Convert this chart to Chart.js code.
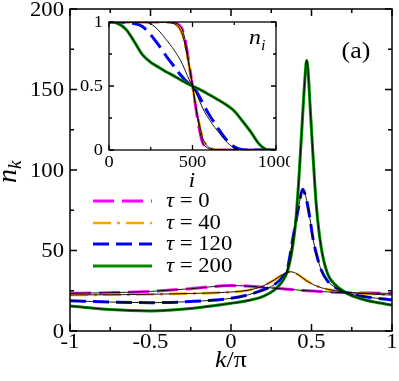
<!DOCTYPE html>
<html>
<head>
<meta charset="utf-8">
<script src="https://cdn.jsdelivr.net/npm/chart.js@4.4.0/dist/chart.umd.min.js"></script>
<style>
  body { margin: 0; background: #fff; }
  #wrap { position: relative; width: 399px; height: 381px; }
  #main { position: absolute; left: 0; top: 0; }
  #inset { position: absolute; left: 80px; top: 10px; }
</style>
</head>
<body>
<div id="wrap">
  <canvas id="main" width="399" height="381"></canvas>
  <canvas id="inset" width="210" height="185"></canvas>
</div>
<script>
// main panel: momentum distribution n_k vs k/pi
const kVals = [-1, -0.75, -0.5, -0.25, 0, 0.1, 0.2, 0.27, 0.32, 0.35, 0.37, 0.385, 0.4, 0.42, 0.445, 0.46, 0.47, 0.48, 0.49, 0.51, 0.53, 0.56, 0.6, 0.65, 0.72, 0.8, 0.9, 1];
const nk0   = [23.4, 23.8, 24.6, 26.3, 28.2, 27.9, 27.1, 26.6, 26.2, 26.0, 25.8, 25.7, 25.6, 25.4, 25.2, 25.1, 25.0, 24.95, 24.9, 24.8, 24.7, 24.5, 24.3, 24.0, 23.7, 23.6, 23.5, 23.4];
const nk40  = [22.4, 22.5, 22.8, 23.3, 24.2, 25.2, 28.0, 31.8, 35.0, 36.4, 36.8, 36.6, 36.0, 34.8, 33.0, 31.9, 31.2, 30.6, 30.0, 28.9, 28.0, 26.9, 25.9, 25.0, 24.0, 23.4, 22.8, 22.3];
const nk120 = [18.8, 18.0, 17.6, 18.3, 20.3, 22.3, 25.5, 28.8, 33.5, 38.5, 49, 58, 66, 77, 88, 85, 81, 76, 70, 57, 48, 38, 31, 27, 23.6, 21.8, 20.4, 19.3];
const nk200 = [15.5, 13.3, 12.5, 14.0, 17.2, 18.8, 21.5, 25.5, 31, 37, 45, 54, 66, 92, 134, 158, 168, 160, 142, 108, 78, 52, 35.5, 28.5, 23.4, 20.2, 17.8, 16.1];

// inset: density profile n_i vs site i
const iVals = [0, 50, 100, 150, 200, 250, 300, 350, 380, 400, 420, 440, 460, 480, 500, 520, 540, 560, 580, 600, 620, 650, 700, 750, 800, 850, 900, 950, 1000];
const ni0   = [1, 1, 1, 1, 1, 1, 1, 1, 0.997, 0.99, 0.975, 0.94, 0.83, 0.67, 0.5, 0.33, 0.17, 0.06, 0.025, 0.01, 0.003, 0, 0, 0, 0, 0, 0, 0, 0];
const ni40  = [1, 1, 1, 1, 1, 1, 1, 0.998, 0.99, 0.98, 0.955, 0.9, 0.79, 0.655, 0.5, 0.345, 0.21, 0.1, 0.045, 0.02, 0.008, 0.002, 0, 0, 0, 0, 0, 0, 0];
const ni120 = [1, 1, 0.997, 0.988, 0.965, 0.9, 0.815, 0.72, 0.67, 0.635, 0.6, 0.57, 0.54, 0.52, 0.5, 0.465, 0.42, 0.37, 0.32, 0.275, 0.235, 0.175, 0.085, 0.025, 0.003, 0, 0, 0, 0];
const ni120ref = [1, 1, 1, 1, 1, 0.985, 0.93, 0.85, 0.8, 0.76, 0.72, 0.67, 0.61, 0.55, 0.5, 0.45, 0.39, 0.33, 0.28, 0.24, 0.2, 0.15, 0.07, 0.015, 0, 0, 0, 0, 0];
const ni200 = [1, 0.99, 0.945, 0.85, 0.745, 0.685, 0.645, 0.605, 0.585, 0.57, 0.555, 0.54, 0.525, 0.512, 0.5, 0.488, 0.475, 0.462, 0.447, 0.432, 0.418, 0.395, 0.355, 0.305, 0.225, 0.14, 0.045, 0.003, 0];

const tauLabels = ['0', '40', '120', '200'];
const kTicks = [-1, -0.5, 0, 0.5, 1];
const kMinor = [-0.75, -0.25, 0.25, 0.75];
const nkTicks = [0, 50, 100, 150, 200];
const nkMinor = [25, 75, 125, 175];
const iTicks = [0, 500, 1000];
const iMinor = [250, 750];
const niTicks = [0, 0.5, 1];
const niMinor = [0.25, 0.75];

const styles = [
  { color: '#ff00ff', dash: [21, 8], width: 3 },
  { color: '#ffa500', dash: [18, 6, 3, 6], width: 2.6 },
  { color: '#0000ff', dash: [16, 7], width: 3 },
  { color: '#008a00', dash: [], width: 3 }
];

const SX = 1.08; // text in the figure is a little wider than plain Times
const SERIF = '"Liberation Serif", "Times New Roman", Times, serif';

function text(ctx, str, x, y, size, align, italic) {
  ctx.save();
  ctx.font = (italic ? 'italic ' : '') + size + 'px ' + SERIF;
  ctx.textBaseline = 'middle';
  ctx.textAlign = align;
  ctx.fillStyle = '#000';
  ctx.translate(x, y);
  ctx.scale(SX, 1);
  ctx.fillText(str, 0, 0);
  ctx.restore();
}

function width(ctx, str, size, italic) {
  ctx.save();
  ctx.font = (italic ? 'italic ' : '') + size + 'px ' + SERIF;
  const w = ctx.measureText(str).width * SX;
  ctx.restore();
  return w;
}

function frame(chart, xs, ys, majLen, minLen, lw) {
  const { ctx, chartArea: a, scales: { x, y } } = chart;
  ctx.save();
  ctx.strokeStyle = '#000';
  ctx.lineWidth = lw;
  ctx.setLineDash([]);
  ctx.strokeRect(a.left, a.top, a.right - a.left, a.bottom - a.top);
  ctx.beginPath();
  [[xs[0], majLen], [xs[1], minLen]].forEach(([vals, len]) => vals.forEach(v => {
    const p = x.getPixelForValue(v);
    ctx.moveTo(p, a.bottom); ctx.lineTo(p, a.bottom - len);
    ctx.moveTo(p, a.top); ctx.lineTo(p, a.top + len);
  }));
  [[ys[0], majLen], [ys[1], minLen]].forEach(([vals, len]) => vals.forEach(v => {
    const p = y.getPixelForValue(v);
    ctx.moveTo(a.left, p); ctx.lineTo(a.left + len, p);
    ctx.moveTo(a.right, p); ctx.lineTo(a.right - len, p);
  }));
  ctx.stroke();
  ctx.restore();
}

const pts = (xs, ys) => xs.map((x, i) => ({ x: x, y: ys[i] }));

function buildSets(xs, series, refs) {
  const sets = [];
  series.forEach((ys, i) => {
    sets.push({ data: pts(xs, ys), borderColor: styles[i].color, borderWidth: styles[i].width,
                borderDash: styles[i].dash, order: 4 - i + 1 });
    sets.push({ data: pts(xs, refs[i] || ys), borderColor: '#000', borderWidth: 0.9, order: 0 });
  });
  return sets;
}

function fixedAxis(min, max, size, horiz) {
  return {
    type: 'linear', min: min, max: max,
    grid: { display: false }, border: { display: false },
    ticks: { display: false },
    afterFit: s => {
      if (horiz) s.height = size; else s.width = size;
      s.paddingLeft = s.paddingRight = s.paddingTop = s.paddingBottom = 0;
    }
  };
}

const fmt = v => String(v);

const mainDecor = {
  id: 'mainDecor',
  afterDraw(chart) {
    const { ctx, chartArea: a, scales: { x, y } } = chart;
    frame(chart, [kTicks, kMinor], [nkTicks, nkMinor], 7, 4, 1.5);
    kTicks.forEach(v => text(ctx, fmt(v), x.getPixelForValue(v), a.bottom + 11, 21, 'center'));
    nkTicks.forEach(v => text(ctx, fmt(v), a.left - 6, y.getPixelForValue(v) + 1, 21, 'right'));

    // x title k/π
    const wk = width(ctx, 'k', 24, true), wr = width(ctx, '/π', 24, false);
    const x0 = (a.left + a.right) / 2 - (wk + wr) / 2;
    text(ctx, 'k', x0, 361, 24, 'left', true);
    text(ctx, '/π', x0 + wk, 361, 24, 'left', false);

    // y title n_k
    ctx.save();
    ctx.translate(16, 174);
    ctx.rotate(-Math.PI / 2);
    ctx.fillStyle = '#000';
    ctx.textBaseline = 'alphabetic';
    ctx.font = 'italic 28px ' + SERIF;
    ctx.fillText('n', -9, 0);
    const wn = ctx.measureText('n').width;
    ctx.font = 'italic 19px ' + SERIF;
    ctx.fillText('k', -9 + wn, 5);
    ctx.restore();

    text(ctx, '(a)', 356, 52, 24, 'center');

    // legend
    const rows = [201, 223, 244, 266];
    tauLabels.forEach((lab, i) => {
      const st = styles[i];
      ctx.save();
      ctx.strokeStyle = st.color;
      ctx.lineWidth = st.width;
      ctx.setLineDash(st.dash);
      ctx.beginPath();
      ctx.moveTo(93, rows[i]); ctx.lineTo(152, rows[i]);
      ctx.stroke();
      ctx.restore();
      const wt = width(ctx, 'τ', 21, true);
      text(ctx, 'τ', 166, rows[i], 21, 'left', true);
      text(ctx, ' = ' + lab, 166 + wt, rows[i], 21, 'left', false);
    });
  }
};

new Chart(document.getElementById('main'), {
  type: 'line',
  data: { datasets: buildSets(kVals, [nk0, nk40, nk120, nk200], []) },
  options: {
    responsive: false, animation: false, maintainAspectRatio: false,
    layout: { padding: { top: 9, right: 7, left: 0, bottom: 0 } },
    plugins: { legend: { display: false }, tooltip: { enabled: false } },
    elements: { point: { radius: 0 }, line: { cubicInterpolationMode: 'monotone', borderCapStyle: 'butt' } },
    scales: { x: fixedAxis(-1, 1, 50, true), y: fixedAxis(0, 200, 70, false) }
  },
  plugins: [mainDecor]
});

const insetDecor = {
  id: 'insetDecor',
  beforeDatasetsDraw(chart) {
    const { ctx, chartArea: a } = chart;
    ctx.save();
    ctx.fillStyle = '#fff';
    ctx.fillRect(a.left, a.top, a.right - a.left, a.bottom - a.top);
    ctx.restore();
  },
  afterDraw(chart) {
    const { ctx, chartArea: a, scales: { x, y } } = chart;
    frame(chart, [iTicks, iMinor], [niTicks, niMinor], 5, 3, 1.3);
    iTicks.forEach(v => text(ctx, fmt(v), x.getPixelForValue(v), a.bottom + 13, 17, 'center'));
    niTicks.forEach(v => text(ctx, fmt(v), a.left - 6, y.getPixelForValue(v) + 1, 17, 'right'));
    text(ctx, 'i', 112, 171, 21, 'center', true);
    text(ctx, 'n', 169, 28, 22, 'left', true);
    text(ctx, 'i', 181, 36, 15, 'left', true);
  }
};

new Chart(document.getElementById('inset'), {
  type: 'line',
  data: { datasets: buildSets(iVals, [ni0, ni40, ni120, ni200], [null, null, ni120ref, null]) },
  options: {
    responsive: false, animation: false, maintainAspectRatio: false,
    layout: { padding: { top: 12, right: 14, left: 0, bottom: 0 } },
    plugins: { legend: { display: false }, tooltip: { enabled: false } },
    elements: { point: { radius: 0 }, line: { cubicInterpolationMode: 'monotone', borderCapStyle: 'butt' } },
    scales: { x: fixedAxis(0, 1000, 45, true), y: fixedAxis(0, 1, 29, false) }
  },
  plugins: [insetDecor]
});
</script>
</body>
</html>
